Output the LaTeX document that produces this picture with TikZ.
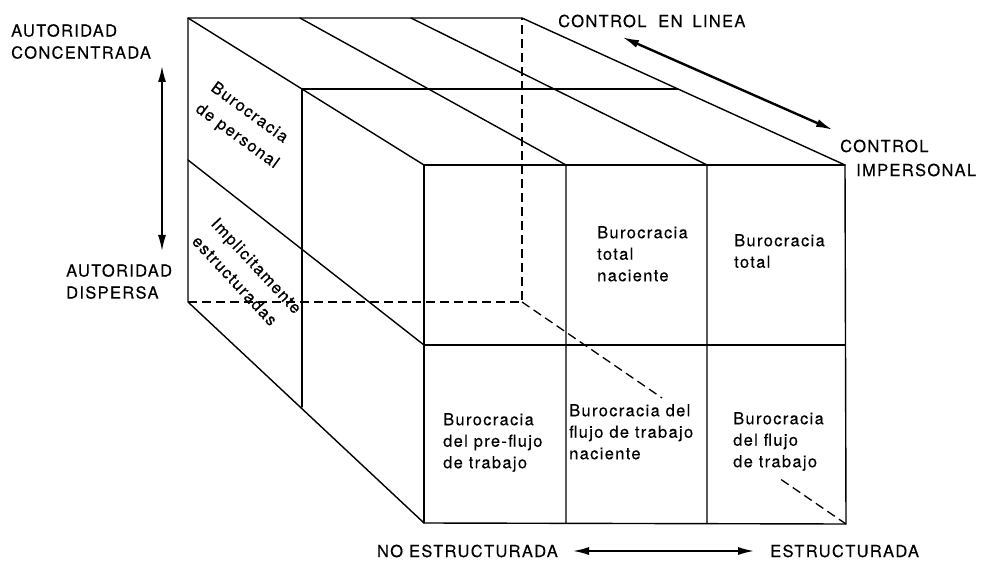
\documentclass[tikz,border=0pt]{standalone}
\usepackage{fontspec}
\setmainfont{TeX Gyre Heros}[LetterSpace=8,FakeBold=0.3]
\usetikzlibrary{arrows.meta,calc}
\begin{document}
\begin{tikzpicture}[x=1pt,y=-1pt,
  edge/.style={line width=1.4pt, line cap=round, line join=round},
  hidden/.style={line width=1.3pt, dash pattern=on 9pt off 5pt},
  axisarrow/.style={line width=2.4pt, {Latex[length=17pt,width=8pt]}-{Latex[length=17pt,width=8pt]}},
  lbl/.style={font=\fontsize{16.5}{22}\selectfont, inner sep=0pt, align=left},
  cell/.style={font=\fontsize{16.5}{21.5}\selectfont, inner sep=0pt, align=left},
  slanted/.style={font=\fontsize{16.5}{26}\selectfont, inner sep=0pt, align=left}]
\useasboundingbox (0,0) rectangle (982,561);

% corners of the block
\coordinate (BTL) at (188,18);
\coordinate (BTR) at (522,18);
\coordinate (BBL) at (188,302);
\coordinate (BBR) at (522,302);
\coordinate (FTL) at (424,165);
\coordinate (FTR) at (845,165);
\coordinate (FBL) at (424,523);
\coordinate (FBR) at (846,524);
% subdivisions
\coordinate (T1) at (300,18);
\coordinate (T2) at (411,18);
\coordinate (F1) at (566,165);
\coordinate (F2) at (707,165);
\coordinate (B1) at (566,523);
\coordinate (B2) at (707,523);
\coordinate (ML) at (424,345);
\coordinate (MR) at (845,345);
\coordinate (LM) at (188,160);
\coordinate (TL) at (302,89);
\coordinate (TR) at (678,89);
\coordinate (LB) at (302,407);

% hidden edges
\draw[hidden] (BBL) -- (BBR) -- (BTR);
\draw[hidden] (BBR) -- ($(BBR)!0.4325!(FBR)$);
\draw[hidden] ($(BBR)!0.80!(FBR)$) -- (FBR);

% visible edges
\draw[edge] (BTL) -- (BTR) -- (FTR) -- (FBR) -- (FBL) -- (BBL) -- cycle;
\draw[edge] (FTL) -- (FTR);
\draw[edge] (FTL) -- (FBL);
\draw[edge] (BTL) -- (FTL);
\draw[edge] (T1) -- (F1) -- (B1);
\draw[edge] (T2) -- (F2) -- (B2);
\draw[edge] (ML) -- (MR);
\draw[edge] (LM) -- (ML);
\draw[edge] (TL) -- (TR);
\draw[edge] (TL) -- (LB);

% axis labels
\node[lbl, anchor=north west] (ac) at (11,24) {AUTORIDAD\\CONCENTRADA};
\node[lbl, anchor=north west] (ad) at (66,264) {AUTORIDAD\\DISPERSA};
\coordinate (va1) at (162,65);
\coordinate (va2) at (162,252);
\draw[axisarrow] (va1) -- (va2);

\node[lbl, anchor=west] (cl) at (558,21) {CONTROL\hspace{6pt} EN\hspace{4pt} LINEA};
\node[lbl, anchor=west] (ci1) at (840,146) {CONTROL};
\node[lbl, anchor=west] (ci2) at (856,170) {IMPERSONAL};
\coordinate (da1) at (622,37);
\coordinate (da2) at (833,130);
\draw[axisarrow] (da1) -- (da2);

\node[lbl, anchor=east] (ne) at (558,551) {NO ESTRUCTURADA};
\node[lbl, anchor=west] (es) at (770,551) {ESTRUCTURADA};
\coordinate (ha1) at (572,551);
\coordinate (ha2) at (755,551);
\draw[axisarrow] (ha1) -- (ha2);

% cell texts
\node[cell, anchor=north west] (c1) at (597,226) {Burocracia\\total\\naciente};
\node[cell, anchor=north west] (c2) at (734,234) {Burocracia\\total};
\node[cell, anchor=north west] (c3) at (443,413) {Burocracia\\del pre-flujo\\de trabajo};
\node[cell, anchor=north west, fill=white] (c4) at (569,404) {Burocracia del\\flujo de trabajo\\naciente};
\node[cell, anchor=north west] (c5) at (733,412) {Burocracia\\del flujo\\de trabajo};

% slanted texts on the left face
\node[slanted, rotate=-36, anchor=north west] (bp) at (217,80) {Burocracia\\de personal};
\node[slanted, rotate=-47, anchor=north west] (ie) at (219,216) {Implicitamente\\estructuradas};
\end{tikzpicture}
\end{document}
